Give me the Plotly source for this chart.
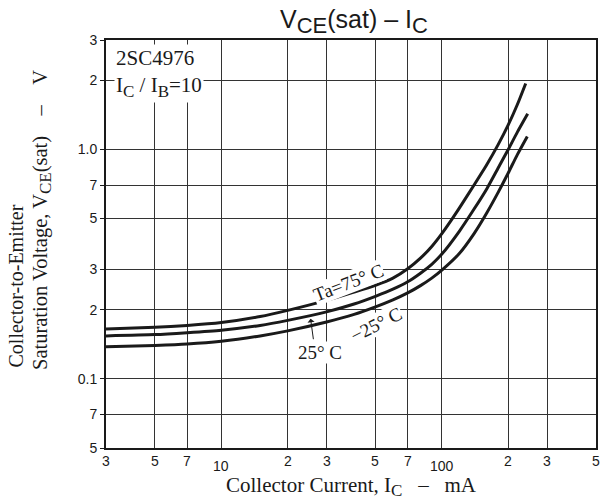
import math
import plotly.graph_objects as go

# ---------------- data ----------------
ic_75 = [3, 5, 7, 10, 15, 20, 30, 40, 50, 60, 70, 80, 90, 100, 110, 120, 140, 160, 180, 200, 220, 240]
vce_75 = [0.165, 0.168, 0.171, 0.176, 0.187, 0.199, 0.220, 0.239, 0.256, 0.275, 0.302, 0.336,
          0.378, 0.43, 0.49, 0.555, 0.70, 0.86, 1.05, 1.28, 1.57, 1.94]

ic_25 = [3, 5, 7, 10, 15, 20, 30, 40, 50, 60, 70, 80, 90, 100, 120, 140, 160, 180, 200, 220, 245]
vce_25 = [0.154, 0.156, 0.159, 0.163, 0.171, 0.180, 0.196, 0.212, 0.229, 0.246, 0.265, 0.289,
          0.316, 0.350, 0.44, 0.55, 0.675, 0.83, 1.0, 1.19, 1.43]

ic_m25 = [3, 5, 7, 10, 15, 20, 30, 40, 50, 60, 70, 80, 90, 100, 120, 140, 160, 180, 200, 220, 244]
vce_m25 = [0.138, 0.140, 0.142, 0.146, 0.154, 0.162, 0.177, 0.191, 0.206, 0.221, 0.237, 0.255,
           0.275, 0.298, 0.352, 0.43, 0.53, 0.65, 0.79, 0.95, 1.14]

x_tick_vals = [3, 5, 7, 10, 20, 30, 50, 70, 100, 200, 300, 500]
x_tick_text = ["3", "5", "7", "10", "2", "3", "5", "7", "100", "2", "3", "5"]
y_tick_vals = [0.05, 0.07, 0.1, 0.2, 0.3, 0.5, 0.7, 1.0, 2, 3]
y_tick_text = ["5", "7", "0.1", "2", "3", "5", "7", "1.0", "2", "3"]

SERIF = "Liberation Serif"
SANS = "Liberation Sans"
INK = "#1a1a1a"
NB = "\u00a0"


def sub(t, px):
    return "<sub><span style='font-size:%dpx'>%s</span></sub>" % (px, t)


fig = go.Figure()
for xs, ys in [(ic_75, vce_75), (ic_25, vce_25), (ic_m25, vce_m25)]:
    fig.add_trace(go.Scatter(x=xs, y=ys, mode="lines",
                             line=dict(color=INK, width=3, shape="spline", smoothing=0.6),
                             showlegend=False, hoverinfo="skip"))

annotations = []
# x tick labels (decade labels sit slightly lower)
for v, t in zip(x_tick_vals, x_tick_text):
    dec = v in (10, 100)
    annotations.append(dict(x=math.log10(v), y=0, xref="x", yref="paper",
                            text=t, showarrow=False, xanchor="center", yanchor="top",
                            yshift=-3 if not dec else -8,
                            font=dict(family=SANS, size=14, color=INK)))

# curve labels
annotations.append(dict(x=math.log10(37.8), y=math.log10(0.262), xref="x", yref="y",
                        text="Ta=75°" + NB + "C", showarrow=False, textangle=-21,
                        font=dict(family=SERIF, size=19, color=INK), bgcolor="white", borderpad=0))
annotations.append(dict(x=math.log10(50.5), y=math.log10(0.172), xref="x", yref="y",
                        text="−25°" + NB + "C", showarrow=False, textangle=-27,
                        font=dict(family=SERIF, size=19, color=INK), bgcolor="white", borderpad=0))
annotations.append(dict(x=math.log10(27.9), y=math.log10(0.131), xref="x", yref="y",
                        text="25°" + NB + "C", showarrow=False,
                        font=dict(family=SERIF, size=19, color=INK), bgcolor="white", borderpad=0))
annotations.append(dict(x=math.log10(25.4), y=math.log10(0.183), xref="x", yref="y",
                        text="", showarrow=True, ax=3, ay=22, arrowhead=1, arrowsize=1.2,
                        arrowwidth=1, arrowcolor=INK))

# device note
annotations.append(dict(x=0.016, y=0.99, xref="paper", yref="paper",
                        text="2SC4976<br>I" + sub("C", 17) + " / I" + sub("B", 17) + "=10",
                        showarrow=False, xanchor="left", yanchor="top", align="left",
                        font=dict(family=SERIF, size=21, color=INK), bgcolor="white", borderpad=1))

# axis titles
annotations.append(dict(x=(352 - 106) / 492, y=-(486 - 448) / 408, xref="paper", yref="paper",
                        text="Collector Current, I" + sub("C", 17) + NB * 3 + "–" + NB * 3 + "mA",
                        showarrow=False, xanchor="center", yanchor="middle",
                        font=dict(family=SERIF, size=21, color=INK)))
annotations.append(dict(x=0, y=(448 - 370) / 408, xref="paper", yref="paper", xshift=-91,
                        text="Collector-to-Emitter", showarrow=False, textangle=-90,
                        xanchor="center", yanchor="bottom",
                        font=dict(family=SERIF, size=20, color=INK)))
annotations.append(dict(x=0, y=(448 - 372) / 408, xref="paper", yref="paper", xshift=-64,
                        text="Saturation Voltage, V" + sub("CE", 17) + "(sat)" + NB * 4 + "–" + NB * 4 + "V",
                        showarrow=False, textangle=-90, xanchor="center", yanchor="bottom",
                        font=dict(family=SERIF, size=20.5, color=INK)))

fig.update_layout(
    width=603, height=501,
    margin=dict(l=106, r=5, t=40, b=53),
    paper_bgcolor="white", plot_bgcolor="white",
    title=dict(text="V" + sub("CE", 22) + "(sat)" + NB + "–" + NB + "I" + sub("C", 22), x=354 / 603,
               xanchor="center", y=1 - 19 / 501, yanchor="middle",
               font=dict(family=SANS, size=25, color=INK)),
    annotations=annotations,
    showlegend=False,
)
fig.update_xaxes(type="log", range=[math.log10(3), math.log10(500)],
                 tickvals=x_tick_vals, ticktext=[""] * len(x_tick_vals), ticks="",
                 showgrid=True, gridcolor="#333333", gridwidth=1,
                 showline=True, linecolor=INK, linewidth=2, mirror=True, zeroline=False)
fig.update_yaxes(type="log", range=[math.log10(0.05), math.log10(3)],
                 tickvals=y_tick_vals, ticktext=y_tick_text, ticks="outside", ticklen=4,
                 tickcolor=INK, tickfont=dict(family=SANS, size=14, color=INK),
                 showgrid=True, gridcolor="#333333", gridwidth=1,
                 showline=True, linecolor=INK, linewidth=2, mirror=True, zeroline=False)

fig.write_html("out.html")
